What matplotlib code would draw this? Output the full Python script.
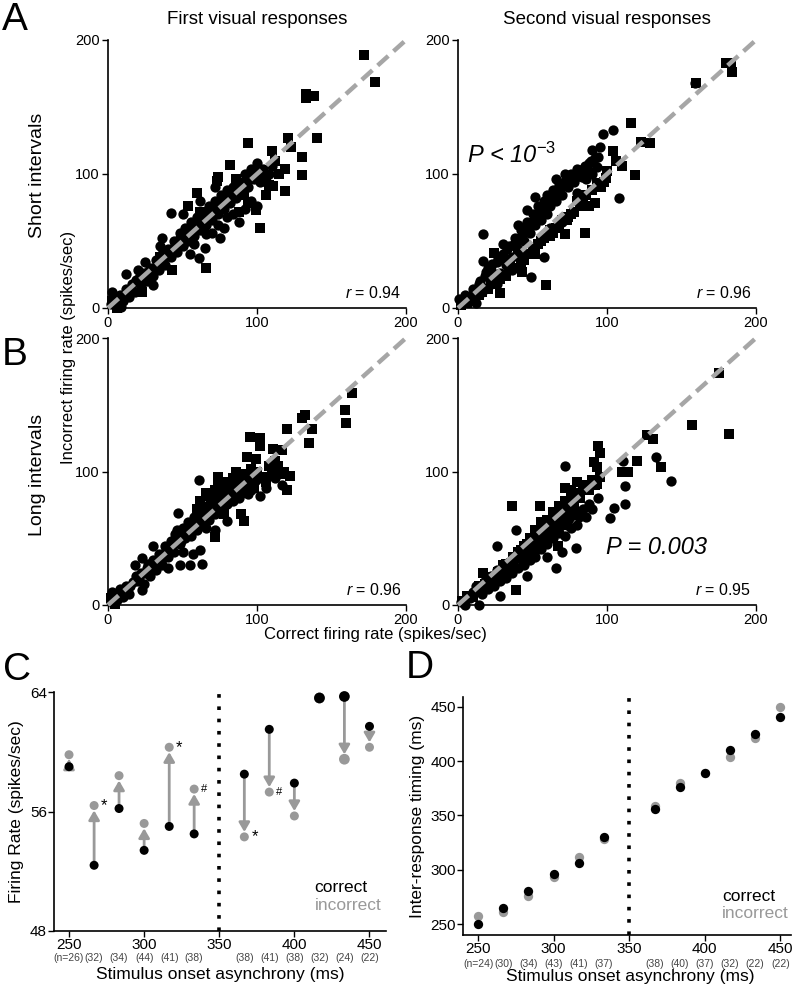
import numpy as np
import matplotlib.pyplot as plt

plt.rcParams['font.family'] = ['Liberation Sans', 'DejaVu Sans']
plt.rcParams['mathtext.fontset'] = 'custom'
plt.rcParams['mathtext.rm'] = 'Liberation Sans'
plt.rcParams['mathtext.it'] = 'Liberation Sans:italic'

# ---- A, first visual responses, short intervals ----
a1_circ_x = [2, 4, 6, 8, 3, 10, 12, 5, 9, 14, 16, 18, 20, 22, 24, 26, 28, 25, 30, 32, 34, 36, 38, 40, 35, 42,
             44, 46, 48, 50, 52, 54, 42, 56, 58, 60, 62, 64, 66, 68, 70, 72, 74, 76, 78, 80, 82, 84, 75, 70, 78,
             86, 88, 90, 92, 94, 96, 98, 100, 102, 104, 106, 108, 110, 96, 100, 92, 61, 48, 30, 12, 55, 65, 84,
             88, 72, 62, 50, 36, 20,
             15, 19, 23, 27, 31, 33, 37, 39, 43, 45, 47, 51, 53, 57, 59, 63, 65, 67, 69, 71, 73, 77, 79, 81, 83,
             85, 87, 89, 91, 93, 95, 97, 99, 101, 104, 58, 66, 74, 80]
a1_circ_y = [3, 8, 2, 10, 12, 5, 14, 6, 1, 8, 18, 12, 22, 16, 26, 20, 30, 34, 24, 36, 28, 40, 32, 44, 46, 38,
             50, 42, 56, 46, 60, 50, 71, 64, 54, 68, 58, 72, 62, 76, 66, 80, 70, 84, 74, 88, 78, 90, 52, 56, 60,
             82, 94, 86, 100, 90, 104, 96, 108, 94, 104, 98, 100, 106, 80, 76, 74, 37, 52, 17, 25, 40, 45, 70,
             64, 90, 80, 70, 52, 28,
             13, 21, 21, 27, 29, 34, 35, 41, 41, 47, 47, 53, 54, 57, 62, 63, 68, 67, 73, 72, 76, 77, 82, 81, 85,
             85, 89, 89, 94, 94, 98, 97, 102, 102, 95, 48, 55, 62, 68]
a1_sq_x = [172, 179, 133, 138, 133, 121, 140, 94, 110, 123, 130, 130, 119, 119, 111, 82, 73, 74, 60, 54, 102,
           66, 23, 93, 99, 91, 94, 62, 43, 3, 6, 8, 28, 35, 46, 57, 68, 78, 86, 102, 108, 115, 106, 112, 88]
a1_sq_y = [189, 169, 160, 158, 157, 127, 127, 123, 117, 120, 113, 99, 104, 87, 91, 107, 95, 98, 86, 76, 60,
           30, 12, 96, 73, 84, 78, 72, 28, 5, 0, 4, 25, 38, 47, 62, 68, 80, 96, 100, 92, 100, 84, 110, 72]

# ---- A, second visual responses, short intervals ----
a2_circ_x = [1, 3, 5, 8, 10, 12, 14, 16, 18, 20, 17, 17, 22, 24, 26, 28, 30, 32, 34, 36, 38, 40, 42, 44, 46,
             46, 48, 50, 52, 52, 54, 56, 58, 60, 60, 62, 64, 66, 68, 70, 72, 76, 74, 78, 80, 83, 84, 86, 88, 90,
             93, 94, 97, 104, 108, 58, 49, 36, 44, 62, 70, 26, 20, 30, 40, 56, 66, 80, 90, 159,
             15, 19, 23, 27, 31, 33, 37, 39, 43, 45, 47, 51, 53, 55, 57, 59, 61, 63, 65, 67, 69, 71, 73, 77, 79,
             81, 85, 87, 89, 92, 95]
a2_circ_y = [7, 3, 10, 6, 14, 4, 18, 12, 24, 16, 35, 55, 28, 22, 34, 26, 40, 32, 46, 38, 52, 44, 58, 50, 64,
             73, 56, 70, 83, 62, 76, 66, 80, 84, 70, 76, 88, 80, 92, 84, 100, 100, 90, 94, 86, 98, 104, 96, 108,
             100, 105, 113, 130, 133, 82, 38, 23, 28, 40, 60, 64, 18, 30, 48, 62, 72, 96, 104, 118, 168,
             20, 27, 33, 37, 36, 44, 47, 48, 54, 60, 61, 66, 70, 72, 75, 78, 82, 85, 86, 88, 90, 94, 96, 97, 98,
             102, 106, 103, 110, 112, 120]
a2_sq_x = [183, 184, 180, 160, 129, 123, 116, 104, 110, 119, 99, 93, 92, 85, 72, 43, 28, 59, 82, 73, 62, 35,
           24, 2, 6, 10, 14, 20, 26, 32, 38, 44, 50, 56, 64, 68, 76, 80, 86, 96, 100, 106, 88, 52, 40,
           16, 22, 28, 34, 42, 48, 54, 58, 62, 66, 70, 74, 78, 84, 90, 94, 98]
a2_sq_y = [183, 176, 183, 168, 123, 124, 138, 117, 106, 99, 97, 93, 78, 56, 55, 27, 11, 17, 76, 66, 58, 31,
           41, 2, 4, 8, 10, 14, 20, 24, 30, 36, 44, 50, 56, 62, 70, 80, 84, 90, 102, 110, 76, 40, 42,
           12, 18, 22, 28, 34, 40, 48, 52, 54, 60, 66, 68, 72, 78, 88, 92, 94]

# ---- B, first visual responses, long intervals ----
b1_circ_x = [2, 4, 6, 8, 10, 12, 3, 14, 20, 22, 24, 23, 26, 28, 30, 32, 34, 36, 38, 40, 42, 44, 45, 47, 46,
             48, 48, 50, 52, 55, 54, 56, 57, 58, 60, 61, 62, 62, 63, 64, 66, 68, 70, 72, 74, 76, 78, 80, 80, 82,
             84, 86, 88, 90, 92, 94, 96, 98, 102, 106, 112, 117, 23, 18, 30, 40, 50, 66, 72,
             15, 17, 19, 21, 25, 27, 29, 31, 33, 35, 37, 39, 41, 43, 47, 49, 51, 53, 55, 57, 59, 61, 63, 65, 67,
             69, 71, 73, 75, 77, 79, 81, 83, 85, 87, 89, 91, 93, 95, 97, 99]
b1_circ_y = [2, 8, 4, 12, 6, 14, 10, 8, 18, 24, 16, 35, 28, 22, 34, 26, 38, 30, 44, 36, 48, 40, 53, 69, 56,
             46, 30, 58, 50, 30, 62, 52, 38, 66, 56, 94, 41, 70, 31, 60, 74, 64, 78, 68, 82, 72, 86, 63, 76, 84,
             78, 88, 80, 84, 90, 83, 86, 92, 82, 88, 95, 90, 11, 30, 44, 28, 40, 58, 56,
             14, 17, 22, 20, 24, 31, 27, 33, 30, 37, 35, 41, 42, 45, 50, 48, 54, 56, 57, 60, 58, 63, 65, 67, 70,
             72, 74, 70, 77, 79, 82, 80, 86, 83, 90, 86, 88, 94, 90, 96, 94]
b1_sq_x = [164, 159, 160, 132, 130, 137, 135, 120, 95, 102, 102, 93, 99, 111, 117, 118, 122, 120, 89, 91, 74,
           72, 60, 69, 84, 89, 2, 5, 8, 30, 40, 50, 58, 64, 70, 76, 80, 86, 90, 96, 100, 108, 112, 78, 66,
           62, 68, 72, 74, 78, 82, 88, 92, 94, 98, 104, 106, 110, 114, 116]
b1_sq_y = [159, 146, 136, 142, 140, 132, 121, 132, 126, 125, 119, 111, 109, 117, 116, 100, 97, 86, 68, 63, 96,
           51, 72, 78, 95, 94, 5, 1, 6, 30, 42, 52, 60, 66, 70, 80, 90, 100, 96, 102, 100, 104, 108, 68, 84,
           78, 82, 86, 90, 92, 88, 84, 98, 92, 88, 96, 92, 100, 104, 98]

# ---- B, second visual responses, long intervals ----
b2_circ_x = [2, 5, 8, 10, 14, 12, 16, 18, 20, 22, 24, 26, 28, 28, 30, 32, 34, 36, 38, 39, 40, 42, 44, 46, 46,
             48, 50, 51, 52, 54, 56, 58, 60, 62, 64, 66, 66, 68, 70, 72, 72, 74, 76, 79, 78, 80, 82, 86, 90, 94,
             102, 105, 112, 112, 111, 133, 143, 26, 60, 70,
             15, 19, 21, 25, 27, 29, 31, 33, 35, 37, 41, 43, 45, 47, 49, 53, 55, 57, 59, 61, 63, 65, 67, 69, 71,
             73, 75, 77, 81, 84, 88]
b2_circ_y = [2, 0, 5, 10, 0, 14, 8, 18, 12, 22, 14, 26, 7, 18, 28, 20, 32, 24, 36, 56, 28, 38, 30, 22, 42,
             34, 46, 39, 36, 50, 42, 54, 46, 58, 50, 28, 62, 54, 60, 104, 52, 64, 58, 43, 68, 60, 70, 66, 72, 80,
             65, 73, 76, 89, 108, 111, 93, 44, 36, 40,
             11, 14, 17, 20, 22, 24, 26, 29, 30, 33, 35, 34, 38, 40, 42, 44, 48, 50, 52, 54, 56, 58, 57, 62, 64,
             60, 66, 70, 66, 72, 76]
b2_sq_x = [175, 157, 182, 127, 131, 136, 120, 114, 110, 94, 95, 91, 93, 36, 55, 72, 84, 93, 39, 17, 6, 67,
           64, 3, 10, 14, 20, 24, 30, 34, 40, 44, 48, 52, 56, 60, 64, 68, 72, 76, 80, 86, 90, 60,
           18, 22, 27, 32, 37, 42, 46, 50, 54, 58, 62, 66, 70, 74, 78, 82, 88, 92, 95, 76, 80]
b2_sq_y = [174, 135, 128, 127, 124, 103, 108, 100, 100, 119, 114, 107, 103, 74, 74, 88, 88, 91, 11, 24, 7, 44,
           54, 3, 6, 14, 20, 16, 30, 26, 40, 44, 50, 56, 62, 64, 70, 74, 78, 80, 84, 90, 94, 58,
           16, 21, 25, 31, 36, 41, 46, 48, 52, 56, 60, 66, 70, 72, 76, 80, 86, 90, 96, 86, 92]

# ---- C, firing rate ----
soa = [250, 266.7, 283.3, 300, 316.7, 333.3, 366.7, 383.3, 400, 416.7, 433.3, 450]
fr_correct = [59.0, 52.4, 56.2, 53.4, 55.0, 54.5, 58.5, 61.5, 57.9, 63.6, 63.7, 61.7]
fr_incorrect = [59.8, 56.4, 58.4, 55.2, 60.3, 57.5, 54.3, 57.3, 55.7, 63.6, 59.5, 60.3]
fr_marks = ['', '*', '', '', '*', '#', '*', '#', '', '', '', '']
n_fr = ['(n=26)', '(32)', '(34)', '(44)', '(41)', '(38)', '(38)', '(41)', '(38)', '(32)', '(24)', '(22)']

# ---- D, inter-response timing ----
irt_correct = [250.3, 264.7, 280.9, 296.0, 306.0, 330.2, 356.0, 375.9, 388.7, 410.2, 424.9, 440.2]
irt_incorrect = [257.4, 261.6, 276.0, 293.8, 312.2, 328.1, 359.0, 380.2, 388.7, 404.1, 421.2, 450.0]
n_irt = ['(n=24)', '(30)', '(34)', '(43)', '(41)', '(37)', '(38)', '(40)', '(37)', '(32)', '(22)', '(22)']

GRAY = '#999999'
W, H = 796, 991
fig = plt.figure(figsize=(W / 100, H / 100), dpi=100)


def rect(l, t, r, b):
    return [l / W, 1 - b / H, (r - l) / W, (b - t) / H]


def clean(ax):
    ax.spines['top'].set_visible(False)
    ax.spines['right'].set_visible(False)
    for s in ('left', 'bottom'):
        ax.spines[s].set_linewidth(1.2)
    ax.tick_params(direction='out', length=4, width=1, labelsize=10.5, pad=2)


def scatter_panel(r, cx, cy, sx, sy, rtxt):
    ax = fig.add_axes(r)
    ax.scatter(cx, cy, s=55, marker='o', c='k', lw=0, clip_on=False, zorder=3)
    ax.scatter(sx, sy, s=50, marker='s', c='k', lw=0, clip_on=False, zorder=3)
    ax.plot([0, 200], [0, 200], ls=(0, (3.2, 1.6)), color='#a6a6a6', lw=3.2, zorder=4, clip_on=False)
    ax.set_xlim(0, 200)
    ax.set_ylim(0, 200)
    ax.set_xticks([0, 100, 200])
    ax.set_yticks([0, 100, 200])
    clean(ax)
    ax.text(0.985, 0.025, r'$r$ = ' + rtxt, transform=ax.transAxes, ha='right', va='bottom', fontsize=11.5)
    return ax


axA1 = scatter_panel(rect(108, 40, 406, 308), a1_circ_x, a1_circ_y, a1_sq_x, a1_sq_y, '0.94')
axA2 = scatter_panel(rect(458, 40, 756, 308), a2_circ_x, a2_circ_y, a2_sq_x, a2_sq_y, '0.96')
axB1 = scatter_panel(rect(108, 338, 406, 605), b1_circ_x, b1_circ_y, b1_sq_x, b1_sq_y, '0.96')
axB2 = scatter_panel(rect(458, 338, 756, 605), b2_circ_x, b2_circ_y, b2_sq_x, b2_sq_y, '0.95')

axA2.text(6, 114, r'P < 10$^{\mathit{-3}}$', style='italic', fontsize=17, ha='left', va='center')
axB2.text(133, 43, 'P = 0.003', style='italic', fontsize=17, ha='center', va='center')

fig.text(257 / W, 1 - 20 / H, 'First visual responses', ha='center', va='center', fontsize=13.5)
fig.text(607 / W, 1 - 20 / H, 'Second visual responses', ha='center', va='center', fontsize=13.5)
fig.text(38 / W, 1 - 175 / H, 'Short intervals', rotation=90, ha='center', va='center', fontsize=14)
fig.text(38 / W, 1 - 475 / H, 'Long intervals', rotation=90, ha='center', va='center', fontsize=14)
fig.text(68 / W, 1 - 347 / H, 'Incorrect firing rate (spikes/sec)', rotation=90, ha='center', va='center',
         fontsize=12)
fig.text(375 / W, 1 - 635 / H, 'Correct firing rate (spikes/sec)', ha='center', va='center', fontsize=12)
for letter, x, y in [('A', 15, 20), ('B', 15, 355), ('C', 17, 670), ('D', 420, 668)]:
    fig.text(x / W, 1 - y / H, letter, ha='center', va='center', fontsize=28)

# ---- panel C ----
axC = fig.add_axes(rect(54, 692, 386, 931))
axC.axvline(350, color='k', ls=(0, (1, 2.4)), lw=2.6, zorder=1)
big = [60 if v in (416.7, 433.3) else 42 for v in soa]
axC.scatter(soa, fr_incorrect, s=big, c=GRAY, lw=0, zorder=3, clip_on=False)
for x, c, i in zip(soa, fr_correct, fr_incorrect):
    if abs(c - i) > 0.1:
        axC.annotate('', xy=(x, i), xytext=(x, c),
                     arrowprops=dict(arrowstyle='-|>,head_width=0.32,head_length=0.55', color=GRAY, lw=2,
                                     shrinkA=3, shrinkB=3.5), zorder=2)
axC.scatter(soa, fr_correct, s=big, c='k', lw=0, zorder=4, clip_on=False)
for x, i, m in zip(soa, fr_incorrect, fr_marks):
    if m:
        axC.annotate(m, xy=(x, i), xytext=(5, 0), textcoords='offset points', ha='left', va='center',
                     fontsize=12 if m == '*' else 8)
axC.set_xlim(240, 461)
axC.set_ylim(48, 64)
axC.set_xticks([250, 300, 350, 400, 450])
axC.set_yticks([48, 56, 64])
clean(axC)
axC.tick_params(labelsize=11, pad=1)
for x, n in zip(soa, n_fr):
    axC.text(x, -0.115, n, transform=axC.get_xaxis_transform(), ha='center', va='center', fontsize=7.5,
             color='#444444')
axC.set_ylabel('Firing Rate (spikes/sec)', fontsize=12.5, labelpad=4)
fig.text(220 / W, 1 - 975 / H, 'Stimulus onset asynchrony (ms)', ha='center', va='center', fontsize=12.5)
axC.text(0.785, 0.18, 'correct', transform=axC.transAxes, ha='left', va='center', fontsize=12.5, color='k')
axC.text(0.785, 0.105, 'incorrect', transform=axC.transAxes, ha='left', va='center', fontsize=12.5,
         color=GRAY)

# ---- panel D ----
axD = fig.add_axes(rect(463, 697, 791, 935))
axD.axvline(350, color='k', ls=(0, (1, 2.4)), lw=2.6, zorder=1)
axD.scatter(soa, irt_incorrect, s=45, c=GRAY, lw=0, zorder=3, clip_on=False)
axD.scatter(soa, irt_correct, s=45, c='k', lw=0, zorder=4, clip_on=False)
axD.set_xlim(240, 457)
axD.set_ylim(240, 459)
axD.set_xticks([250, 300, 350, 400, 450])
axD.set_yticks([250, 300, 350, 400, 450])
clean(axD)
axD.tick_params(labelsize=11, pad=1)
for x, n in zip(soa, n_irt):
    axD.text(x, -0.12, n, transform=axD.get_xaxis_transform(), ha='center', va='center', fontsize=7.5,
             color='#444444')
fig.text(630 / W, 1 - 977 / H, 'Stimulus onset asynchrony (ms)', ha='center', va='center', fontsize=12.5)
axD.set_ylabel('Inter-response timing (ms)', fontsize=12.5, labelpad=4)
axD.text(0.79, 0.16, 'correct', transform=axD.transAxes, ha='left', va='center', fontsize=12.5, color='k')
axD.text(0.79, 0.09, 'incorrect', transform=axD.transAxes, ha='left', va='center', fontsize=12.5,
         color=GRAY)

fig.savefig('out.png', dpi=100)
